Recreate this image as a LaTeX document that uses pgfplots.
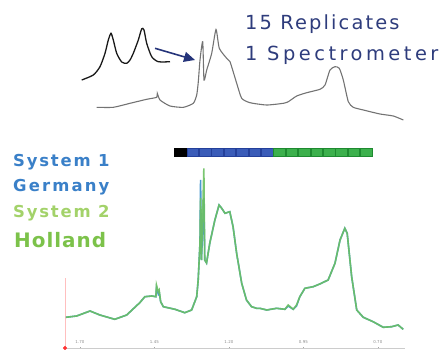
\documentclass[border=0pt]{standalone}
\usepackage{pgfplots}
\pgfplotsset{compat=1.18}
\usepackage{fontspec}
\setmainfont{DejaVu Sans}
\usetikzlibrary{arrows.meta}
\definecolor{navytxt}{HTML}{2E3C7C}
\definecolor{arrowc}{HTML}{25347A}
\definecolor{sysblue}{HTML}{3A80C8}
\definecolor{sysgreen}{HTML}{A3D26A}
\definecolor{holgreen}{HTML}{7CC24A}
\definecolor{specgreen}{HTML}{6CC062}
\definecolor{specblue}{HTML}{4A9AD0}
\definecolor{sqblue}{HTML}{3A5CB8}
\definecolor{sqblueb}{HTML}{24409A}
\definecolor{sqgreen}{HTML}{3CB04C}
\definecolor{sqgreenb}{HTML}{1E8A30}
\begin{document}
\begin{tikzpicture}[x=1bp,y=1bp]
\useasboundingbox (0bp,0bp) rectangle (445bp,350bp);
% overlay axis in image pixel coordinates
\begin{axis}[at={(0bp,0bp)},anchor=south west,scale only axis,width=445bp,height=350bp,
  xmin=0,xmax=445,ymin=0,ymax=350,y dir=reverse,hide axis,clip=false]
% top gray spectrum
\addplot[color=black!55,line width=1.1pt,smooth,tension=0.35] coordinates {
(96.7,107.3)(113.3,107.3)(130,103.3)(146.7,99.3)(156.7,97.3)(157.3,93.3)(160,100)
(170,106)(183.3,107.3)(193.3,103.3)(196.7,95)(198.3,81.7)(200,60)(202.7,41.7)(204,80)
(206.7,70)(211.7,53.3)(216,29.5)(219.3,48.3)(226.7,58.3)(230,61.7)(236.7,83.3)
(241.7,98.3)(250,102.7)(266.7,105)(283.3,103.3)(288.3,101.7)(296.7,96)(306.7,92.7)
(320,89.3)(325,85)(330,70)(335,66.7)(339.3,68.3)(343.3,80)(348.3,101.7)(353.3,107.3)
(363.3,110)(380,114)(393.3,116)(403.3,120)};
% inset black doublet
\addplot[color=black!90,line width=1.3pt,smooth,tension=0.4] coordinates {
(81.7,80)(93.3,75)(100,66.7)(105,53.3)(108.3,40)(111,33.3)(113.3,40)(116.7,53.3)
(121.7,62)(126.7,63.3)(130,60)(133.3,53.3)(138.3,40)(141.7,28.8)(144,30)(146.7,43.3)
(151.7,56.7)(158.3,61.7)(170,61.7)};
% arrow
\addplot[color=arrowc,line width=1.6pt,-{Triangle[length=11bp,width=10bp]}] coordinates {(155,48.3)(195,60)};
% colour strip
\addplot[only marks,mark=square*,mark size=4bp,mark options={xscale=1.45,draw=black,fill=black}] coordinates {(180,152)};
\addplot[only marks,mark=square*,mark size=4bp,mark options={xscale=1.45,draw=sqblueb,fill=sqblue}] coordinates {
(192.5,152)(204.9,152)(217.3,152)(229.7,152)(242.1,152)(254.5,152)(266.9,152)};
\addplot[only marks,mark=square*,mark size=4bp,mark options={xscale=1.45,draw=sqgreenb,fill=sqgreen}] coordinates {
(279.3,152)(291.7,152)(304.1,152)(316.5,152)(328.9,152)(341.3,152)(353.7,152)(366.1,152)};
% texts
\node[anchor=base west,inner sep=0,text=navytxt,font=\fontsize{19.5}{22}\selectfont\addfontfeature{LetterSpace=11}] at (axis cs:245,29) {15 Replicates};
\node[anchor=base west,inner sep=0,text=navytxt,font=\fontsize{19.5}{22}\selectfont\addfontfeature{LetterSpace=18}] at (axis cs:245,60) {1 Spectrometer};
\node[anchor=base west,inner sep=0,text=sysblue,font=\bfseries\fontsize{16.5}{18}\selectfont\addfontfeature{LetterSpace=11}] at (axis cs:13,166) {System 1};
\node[anchor=base west,inner sep=0,text=sysblue,font=\bfseries\fontsize{16.5}{18}\selectfont\addfontfeature{LetterSpace=13}] at (axis cs:13,191) {Germany};
\node[anchor=base west,inner sep=0,text=sysgreen,font=\bfseries\fontsize{16.5}{18}\selectfont\addfontfeature{LetterSpace=11}] at (axis cs:13,217) {System 2};
\node[anchor=base west,inner sep=0,text=holgreen,font=\bfseries\fontsize{20}{22}\selectfont\addfontfeature{LetterSpace=5}] at (axis cs:14,247) {Holland};
\end{axis}
% main spectrum axis (ppm)
\begin{axis}[at={(235bp,97bp)},anchor=center,scale only axis,width=340bp,height=190bp,
  x dir=reverse,xmin=0.609,xmax=1.750,ymin=0,ymax=190,
  axis x line=bottom,axis y line=none,axis line style={draw=black!20,-},
  xtick={1.70,1.45,1.20,0.95,0.70},xticklabels={1.70,1.45,1.20,0.95,0.70},
  tick style={draw=black!35,major tick length=2bp},
  xticklabel style={anchor=south,yshift=2bp,font=\fontsize{4}{5}\selectfont,text=black!45},
  clip=false]
\draw[red!25,line width=0.5pt] (axis cs:1.750,0) -- (axis cs:1.750,70);
\addplot[color=specblue,line width=1.6pt] coordinates {
(1.747,30.7)(1.711,32)(1.666,37)(1.633,33)(1.583,28.7)(1.543,33)(1.499,45.3)(1.482,51.3)
(1.459,52)(1.445,51.3)(1.443,60)(1.437,54)(1.434,56)(1.429,46.3)(1.420,41.3)(1.381,38.7)
(1.348,35.3)(1.325,38)(1.308,51.3)(1.303,68)(1.297,105)(1.295,168)(1.292,88)(1.284,150)
(1.281,88)(1.275,85)(1.264,105)(1.247,128)(1.233,143)(1.224,139.7)(1.213,134.7)(1.197,136.3)
(1.186,121.3)(1.174,94.7)(1.157,64.7)(1.141,48)(1.124,41.3)(1.107,39.7)(1.096,39.7)(1.073,38)
(1.040,39.7)(1.012,38.7)(1.001,42)(0.984,38.7)(0.973,42)(0.962,51.3)(0.945,59.7)(0.917,61.3)
(0.895,64)(0.867,68)(0.844,84.7)(0.827,108)(0.811,119.7)(0.803,114.7)(0.788,71.3)(0.771,38)
(0.749,30.7)(0.716,26.3)(0.682,20.7)(0.654,21.3)(0.632,23)(0.615,18.7)};
\addplot[color=specgreen,line width=1.6pt,opacity=0.9] coordinates {
(1.747,30.7)(1.711,32)(1.666,37)(1.633,33)(1.583,28.7)(1.543,33)(1.499,45.3)(1.482,51.3)
(1.459,52)(1.445,51.3)(1.443,63)(1.437,56.3)(1.434,58)(1.429,46.3)(1.420,41.3)(1.381,38.7)
(1.348,35.3)(1.325,38)(1.308,51.3)(1.303,68)(1.297,105)(1.295,150)(1.292,88)(1.284,179.7)
(1.281,88)(1.275,85)(1.264,105)(1.247,128)(1.233,143)(1.224,139.7)(1.213,134.7)(1.197,136.3)
(1.186,121.3)(1.174,94.7)(1.157,64.7)(1.141,48)(1.124,41.3)(1.107,39.7)(1.096,39.7)(1.073,38)
(1.040,39.7)(1.012,38.7)(1.001,43)(0.984,38.7)(0.973,43)(0.962,51.3)(0.945,59.7)(0.917,61.3)
(0.895,64)(0.867,68)(0.844,84.7)(0.827,108)(0.811,119.7)(0.803,114.7)(0.788,71.3)(0.771,38)
(0.749,30.7)(0.716,26.3)(0.682,20.7)(0.654,21.3)(0.632,23)(0.615,18.7)};
\addplot[only marks,mark=*,mark size=1.8bp,color=red!80] coordinates {(1.750,0)};
\end{axis}
\end{tikzpicture}
\end{document}
